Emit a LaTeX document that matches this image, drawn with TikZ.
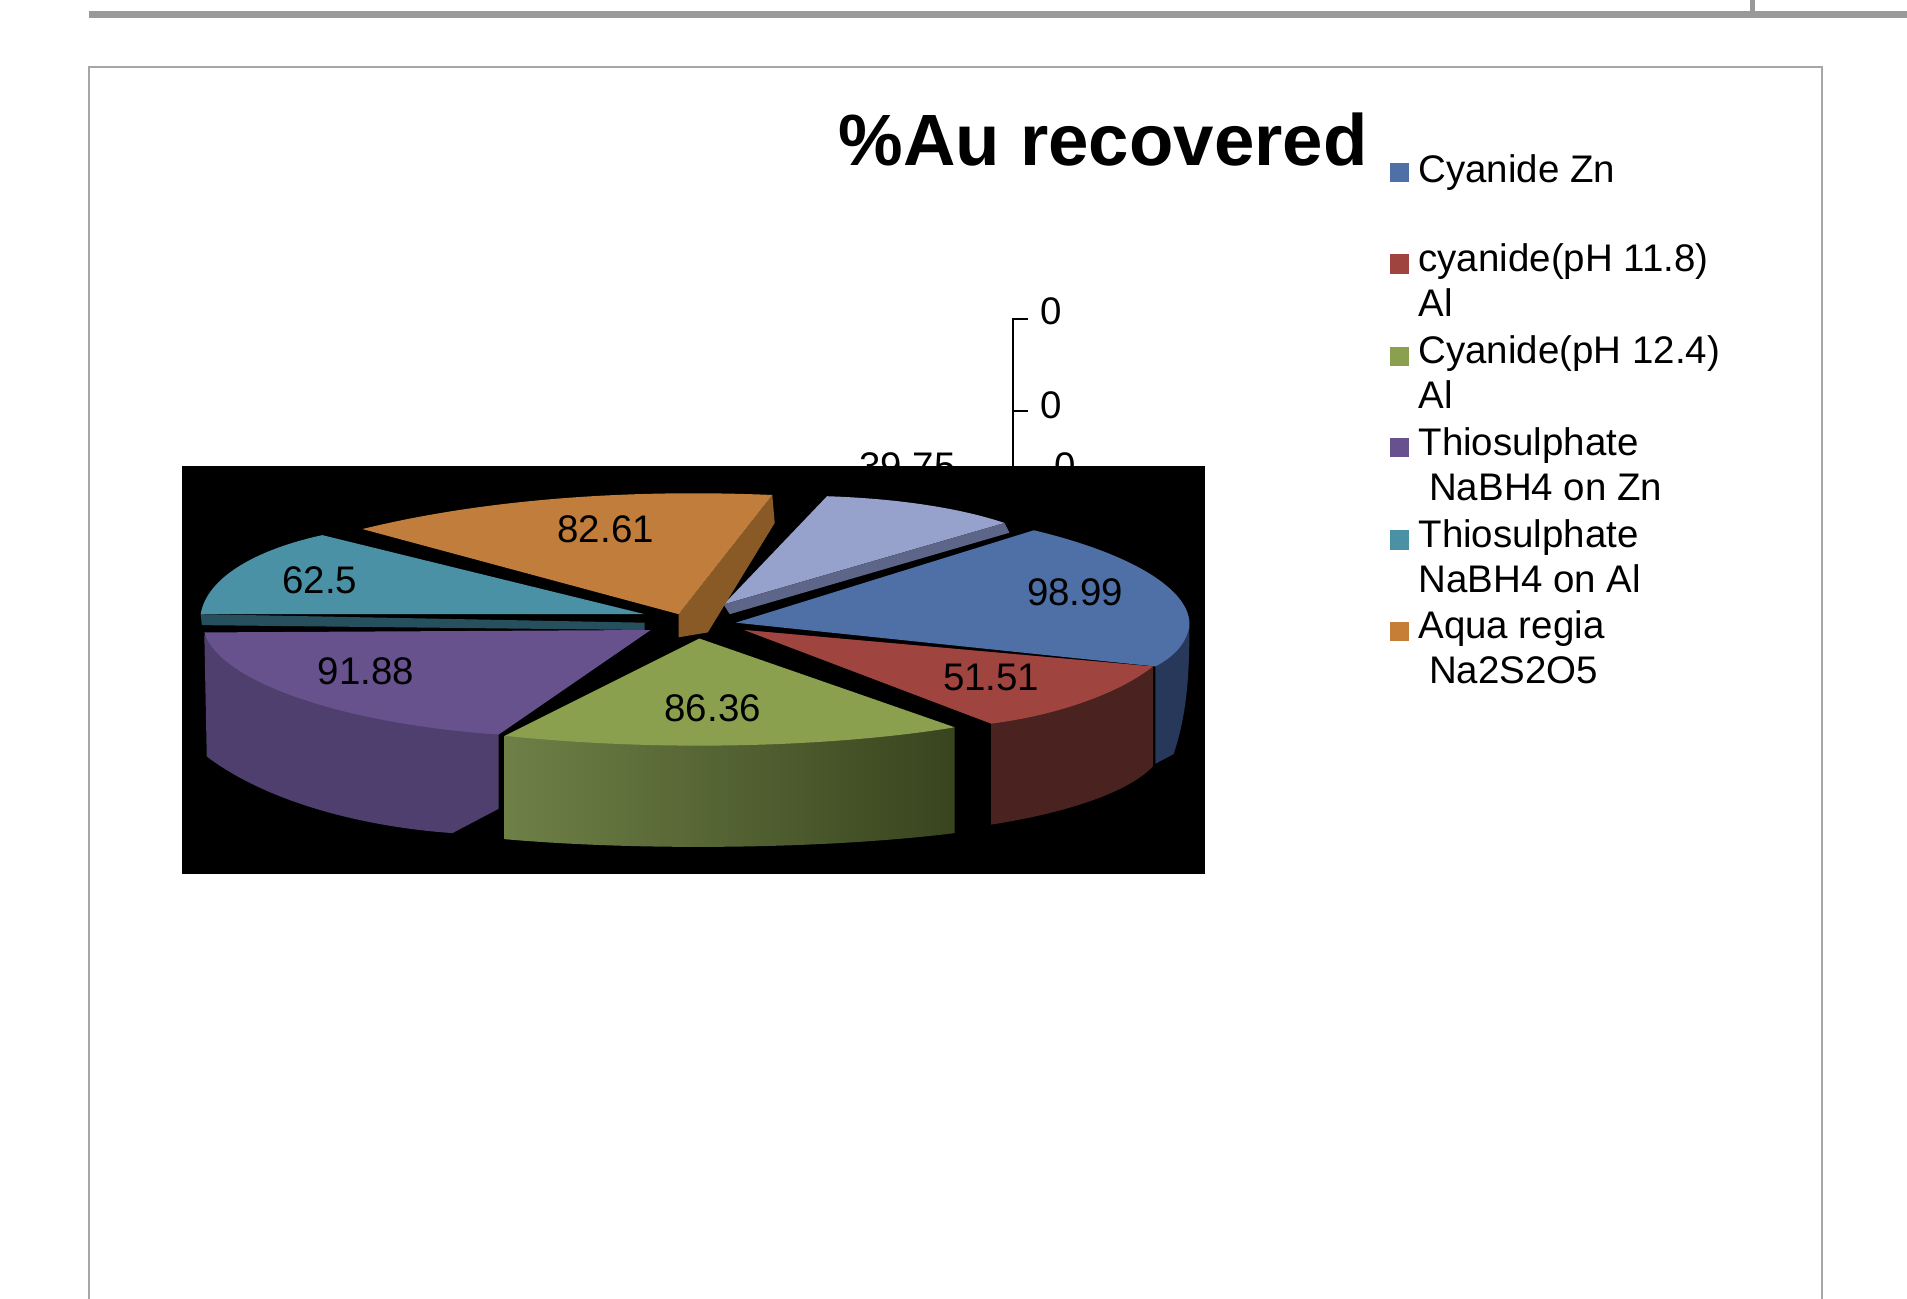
\documentclass[tikz,border=0pt]{standalone}
\usepackage{fontspec}
\setmainfont{Liberation Sans}
\definecolor{cB}{HTML}{4F70A6}\definecolor{cBs}{HTML}{27385A}
\definecolor{cR}{HTML}{A0443F}\definecolor{cRs}{HTML}{4A2220}
\definecolor{cG}{HTML}{8AA04E}\definecolor{cGs}{HTML}{5E7232}
\definecolor{cP}{HTML}{67528E}\definecolor{cPs}{HTML}{4E3F6E}
\definecolor{cT}{HTML}{4A91A6}\definecolor{cTs}{HTML}{27505E}
\definecolor{cO}{HTML}{C07D3C}\definecolor{cOs}{HTML}{8A5A26}
\definecolor{cL}{HTML}{96A2CB}\definecolor{cLs}{HTML}{5D6688}
\begin{document}
\begin{tikzpicture}[x=0.02cm,y=-0.02cm,
 lab/.style={font=\fontsize{18}{20}\selectfont,inner sep=0pt},
 leg/.style={font=\fontsize{18}{21}\selectfont,inner sep=0pt,anchor=west,align=left},
 sq/.style={minimum size=9pt,inner sep=0pt}]
\useasboundingbox (0,0) rectangle (1568,1068);
\fill[white] (0,0) rectangle (1568,1068);
\draw[gray!80,line width=3pt] (73,12) -- (1568,12);
\draw[gray!80,line width=2pt] (1441,0) -- (1441,12);
\draw[gray!70,line width=1pt] (73,1070) -- (73,55) -- (1498,55) -- (1498,1070);
\node[font=\bfseries\fontsize{34}{36}\selectfont,inner sep=0pt] (title) at (907,115) {\%Au recovered};
\draw[black,line width=0.8pt] (845,262) -- (833,262) -- (833,420);
\draw[black,line width=0.8pt] (833,338) -- (845,338);
\node[lab] (z1) at (864,256) {0};
\node[lab] (z2) at (864,333) {0};
\node[lab] (z3) at (876,383) {0};
\node[lab] (l3975) at (746,383) {39.75};
\fill[black] (150,383) rectangle (991,719);
% lavender
\fill[cL] (595,497) -- (680,408) .. controls (740,410) and (790,418) .. (826,430) -- cycle;
\fill[cLs] (595,497) -- (826,430) -- (830,438) -- (600,505) -- cycle;
% blue
\fill[cBs] (950,548) -- (978,515) .. controls (978,560) and (975,590) .. (965,620) -- (950,628) -- cycle;
\fill[cB] (605,512) -- (850,436) .. controls (930,455) and (980,485) .. (978,515) .. controls (975,530) and (965,540) .. (950,548) -- cycle;
% red
\fill[cRs] (612,518) -- (815,595) -- (815,678) .. controls (880,668) and (930,650) .. (948,630) -- (948,548) -- cycle;
\fill[cR] (612,518) -- (948,548) .. controls (920,570) and (870,588) .. (815,595) -- cycle;
% purple
\fill[cPs] (168,522) -- (170,622) .. controls (220,660) and (300,680) .. (372,685) -- (410,665) -- (410,604) -- cycle;
\fill[cP] (535,518) -- (168,520) .. controls (180,560) and (280,595) .. (410,604) -- cycle;
% teal
\fill[cTs] (165,505) -- (530,512) -- (530,518) -- (166,514) -- cycle;
\fill[cT] (530,505) -- (265,440) .. controls (210,452) and (170,475) .. (165,505) -- cycle;
% orange
\fill[cOs] (635,407) -- (637,430) -- (582,520) -- (558,524) -- (558,505) -- cycle;
\fill[cO] (558,505) -- (298,435) .. controls (400,410) and (520,402) .. (635,407) -- cycle;
% green
\shade[left color=cGs!90!white,right color=cGs!60!black] (415,605) -- (415,690) .. controls (530,700) and (680,698) .. (785,685) -- (785,598) -- cycle;
\fill[cG] (575,525) -- (785,598) .. controls (700,612) and (560,620) .. (415,605) -- cycle;
\node[lab] (s1) at (498,435) {82.61};
\node[lab] (s2) at (263,477) {62.5};
\node[lab] (s3) at (884,487) {98.99};
\node[lab] (s4) at (301,552) {91.88};
\node[lab] (s5) at (815,557) {51.51};
\node[lab] (s6) at (586,582) {86.36};
\node[sq,fill=cB] (q1) at (1151,142) {};
\node[leg] (t1) at (1166,142) {Cyanide Zn};
\node[sq,fill=cR] (q2) at (1151,217) {};
\node[leg,anchor=north west] (t2) at (1166,200) {cyanide(pH 11.8)\\Al};
\node[sq,fill=cG] (q3) at (1151,293) {};
\node[leg,anchor=north west] (t3) at (1166,276) {Cyanide(pH 12.4)\\Al};
\node[sq,fill=cP] (q4) at (1151,368) {};
\node[leg,anchor=north west] (t4) at (1166,351) {Thiosulphate\\\ NaBH4 on Zn};
\node[sq,fill=cT] (q5) at (1151,444) {};
\node[leg,anchor=north west] (t5) at (1166,427) {Thiosulphate\\NaBH4 on Al};
\node[sq,fill=cO!90!orange] (q6) at (1151,519) {};
\node[leg,anchor=north west] (t6) at (1166,502) {Aqua regia\\\ Na2S2O5};
\end{tikzpicture}
\end{document}
